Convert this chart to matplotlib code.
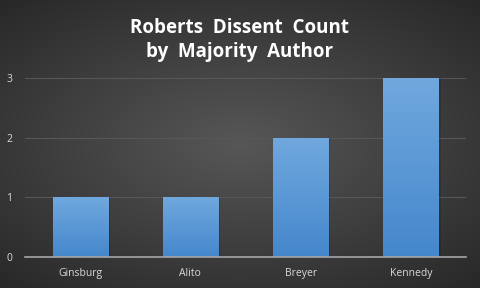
import matplotlib
matplotlib.use("Agg")
import matplotlib.pyplot as plt
import numpy as np

# data
authors = ["Ginsburg", "Alito", "Breyer", "Kennedy"]
dissents = [1, 1, 2, 3]
yticks = [0, 1, 2, 3]

fig = plt.figure(figsize=(4.8, 2.88), dpi=100)

# radial gradient background
bg = fig.add_axes([0, 0, 1, 1])
xx, yy = np.meshgrid(np.linspace(-1, 1, 480), np.linspace(-1, 1, 288))
r = np.sqrt((xx / 1.1) ** 2 + (yy / 1.0) ** 2)
shade = 0.34 - 0.19 * np.clip(r, 0, 1.4) / 1.4
bg.imshow(np.dstack([shade, shade, shade]), aspect="auto", extent=[0, 1, 0, 1])
bg.axis("off")

ax = fig.add_axes([25 / 480, 31 / 288, 441 / 480, 179 / 288])
ax.patch.set_alpha(0)
x = np.arange(len(authors))
bars = ax.bar(x, dissents, width=0.5, color="#5b9bd5", zorder=3)

# vertical gradient in each bar
grad = np.linspace(0, 1, 100).reshape(-1, 1)
top = np.array([0.44, 0.66, 0.87])
bot = np.array([0.27, 0.53, 0.80])
img = (bot + (top - bot) * grad[:, :, None] * np.ones((1, 1, 3)))
for b in bars:
    bx, by = b.get_x(), b.get_y()
    w, h = b.get_width(), b.get_height()
    # faint shadow on the right
    ax.add_patch(plt.Rectangle((bx + w, by), 0.02, h, color="black", alpha=0.12, zorder=2, lw=0))
    im = ax.imshow(img, extent=[bx, bx + w, by, by + h], origin="lower", aspect="auto", zorder=4)
    im.set_clip_path(b)

ax.set_xlim(-0.5, len(authors) - 0.5)
ax.set_ylim(0, 3)
ax.set_yticks(yticks)
ax.set_xticks(x)
ax.set_xticklabels(authors)
ax.grid(axis="y", color="#575757", lw=0.8, zorder=0)
for s in ["top", "right", "left"]:
    ax.spines[s].set_visible(False)
ax.spines["bottom"].set_color("#a6a6a6")
ax.spines["bottom"].set_linewidth(1.2)
ax.spines["bottom"].set_zorder(5)
ax.tick_params(length=0, colors="#d9d9d9", labelsize=7.5, pad=8)
ax.tick_params(axis="y", pad=9)
for lab in ax.get_xticklabels() + ax.get_yticklabels():
    lab.set_family("Open Sans")

fig.text(0.5, 0.862, "Roberts  Dissent  Count\nby  Majority  Author", ha="center", va="center",
         color="white", fontsize=13.5, fontweight="bold", family="Open Sans", linespacing=1.25)

fig.savefig("out.png", dpi=100)
